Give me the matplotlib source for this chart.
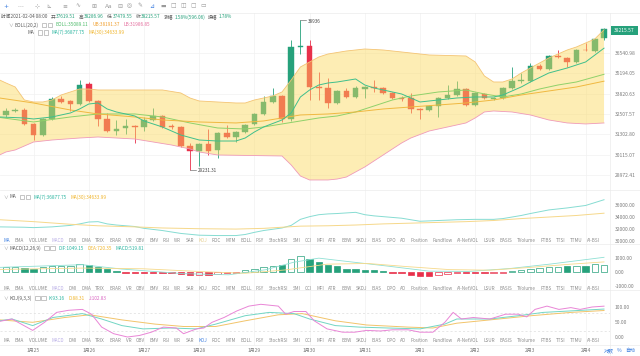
import matplotlib
matplotlib.use("Agg")
import matplotlib.pyplot as plt
from matplotlib.patches import Rectangle
from matplotlib.lines import Line2D
from matplotlib.ticker import FixedLocator, FuncFormatter, NullLocator

plt.rcParams["font.family"] = ["Noto Sans CJK SC", "DejaVu Sans"]

W, H = 640, 356
GREEN, RED = "#26a17b", "#e8304a"
GRID = "#f1f1f1"
AXIS_TXT = "#7d7d7d"
LABEL = "#5a5a5a"

# 4h candles, index 0..65, last one = 2021-02-04 08:00
opens = [32477, 32725, 32787, 31927, 31263, 32231, 33480, 33353, 33163, 34449,
         33353, 32231, 31502, 31684, 31805, 31744, 32170, 32416, 31805, 31744,
         30616, 30327, 30733, 30385, 31383, 31145, 31442, 31927, 32539, 33290,
         33672, 32231, 36961, 37031, 34253, 34188, 33226, 33994, 33608, 34123,
         34253, 34188, 33865, 33544, 33544, 32850, 32787, 33037, 33544, 33736,
         34123, 33100, 33800, 33480, 33544, 34188, 34646, 34646, 35649, 35446,
         36333, 36196, 35922, 36750, 36680, 37619.51]
closes = [32725, 32787, 31927, 31263, 32231, 33480, 33290, 33163, 34383, 33353,
          32231, 31502, 31623, 31805, 31744, 32170, 32416, 31744, 31714, 30616,
          30327, 30733, 30327, 31383, 31145, 31442, 31866, 32539, 33290, 33672,
          32231, 36961, 37031, 34253, 34188, 33226, 33994, 33608, 34188, 34253,
          34188, 33865, 33544, 33480, 32850, 32787, 33037, 33544, 33736, 34123,
          33100, 33865, 33544, 33544, 34188, 34646, 34712, 35649, 35446, 36333,
          36264, 35922, 36750, 36715, 37528, 38215.57]
highs = [32912, 32912, 32912, 31988, 32293, 33608, 33672, 33416, 34712, 34580,
         33416, 32601, 32170, 32231, 31866, 32354, 32912, 32477, 31927, 31805,
         30791, 30791, 31623, 31442, 31866, 31502, 31927, 32601, 33672, 34188,
         33736, 37456, 38936, 37456, 35244, 34845, 34058, 34188, 34318, 34318,
         34712, 34253, 33929, 33672, 33865, 32912, 33100, 33608, 34383, 34646,
         34188, 33929, 33865, 33608, 34253, 35581, 35177, 35853, 35785, 36402,
         36750, 36264, 36820, 37243, 37599, 38286.96]
lows = [32354, 32663, 31866, 30967, 31204, 32170, 33226, 32725, 33100, 33290,
        31805, 31442, 31263, 31323, 30791, 31502, 32109, 31684, 31623, 30558,
        29231.31, 29475, 30097, 29927, 31085, 30850, 31383, 31866, 32477, 33226,
        32048, 32109, 36471, 33416, 33416, 32912, 33163, 33544, 33544, 33544,
        33929, 33800, 33480, 33353, 32601, 32231, 32725, 32354, 33480, 33672,
        33037, 33037, 33480, 33416, 33480, 34123, 34515, 34580, 35378, 35378,
        36196, 35581, 35853, 36680, 36611, 37479.55]

# Bollinger bands / moving averages (read at candle positions)
ub_idx = [-0.7, 0, 1, 2, 3, 4, 5, 6, 7, 8, 9, 10, 17, 19, 20, 21, 25, 26, 27, 28, 29, 30, 31,
          32, 33, 34, 35, 37, 39, 41, 43, 46, 50, 51, 52, 53, 54, 55, 56, 57, 58, 59,
          60, 61, 62, 63, 64, 65]
ub = [34712, 34515, 34253, 33416, 33290, 33290, 33416, 33736, 33929, 34123, 34123, 34058,
      34058, 33865, 33544, 33353, 33226, 33226, 33416, 33544, 33672, 33929, 34712,
      35581, 35922, 36264, 36471, 36680, 36820, 36750, 36611, 36402, 36333, 35922,
      34978, 34580, 34580, 34778, 35177, 35513, 35853, 36196, 36471, 36750, 36961,
      37243, 37528, 38191.37]
lb_idx = [-0.7, 0, 1, 2, 3, 5, 8, 10, 12, 14, 16, 18, 20, 21, 23, 30, 31, 32, 33, 35, 36,
          37, 38, 39, 40, 41, 42, 43, 44, 46, 48, 50, 51, 52, 53, 55, 57, 59, 61, 63, 65]
lb = [30097, 30270, 30385, 30616, 30850, 30967, 31085, 31145, 31085, 31026, 30850,
      30674, 30443, 30270, 30097, 30040, 29531, 28917, 28700, 28700, 28752,
      28862, 29141, 29419, 29757, 30097, 30443, 30791, 31085, 31502, 31744,
      31988, 32293, 32663, 32725, 32663, 32477, 32170, 31988, 31927, 31986.85]
mid_idx = [-0.7, 3, 7, 10, 14, 17, 20, 23, 26, 28, 30, 32, 34, 36, 38, 40, 42, 44, 47, 50,
           52, 54, 56, 58, 60, 62, 65]
mid = [32324, 32048, 32354, 32539, 32539, 32354, 31988, 31684, 31623, 31744,
       31927, 32109, 32293, 32416, 32663, 33037, 33416, 33672, 33929, 34058,
       33800, 33608, 33800, 34123, 34383, 34580, 35089.11]
ma7_idx = [-0.7, 2, 3, 5, 7, 8, 9, 10, 11, 12, 14, 15, 17, 19, 21, 23, 25, 26, 27, 28,
           30, 31, 32, 33, 34, 35, 36, 38, 39, 40, 42, 43, 44, 45, 47, 49, 51, 53, 54,
           56, 57, 59, 61, 63, 65]
ma7 = [32354, 32293, 32231, 32354, 32601, 32850, 33163, 33226, 32850, 32663,
       32416, 32109, 31744, 31263, 30967, 30908, 30908, 31085, 31442, 31744,
       32170, 32601, 33608, 34058, 34383, 34515, 34580, 34778, 34383, 34188,
       33929, 33800, 33544, 33290, 33416, 33544, 33608, 33608, 33736, 34253,
       34580, 35177, 35513, 35922, 36877.75]
ma30_idx = [-0.7, 3, 7, 10, 14, 17, 21, 25, 28, 30, 32, 35, 38, 41, 44, 47, 50, 53, 56,
            59, 62, 65]
ma30 = [33544, 33226, 32787, 32539, 32354, 32170, 32048, 31988, 32109, 32293,
        32477, 32539, 32663, 32850, 32975, 33100, 33226, 33416, 33736, 33994,
        34253, 34633.99]

# MACD(12,26,9)
macd_hist = [324, 324, 288, 180, 324, 414, 450, 450, 540, 504,
             360, 180, 54, -72, -72, -54, -36, -54, -54, -126,
             -180, -180, -216, -126, -72, -36, 108, 234, 324, 450,
             504, 954, 1134, 954, 720, 504, 414, 234, 180, 144,
             108, 54, -54, -90, -216, -252, -252, -216, -144, -90,
             -72, -72, -72, -36, -36, 36, 108, 180, 288, 324,
             360, 414, 414, 450, 540, 519.81]
hollow = [1, 1, 0, 0, 1, 1, 1, 1, 1, 0,
          0, 0, 0, 0, 0, 0, 0, 0, 0, 0,
          0, 1, 0, 1, 1, 1, 1, 1, 1, 1,
          0, 1, 1, 0, 0, 0, 0, 0, 0, 0,
          0, 0, 0, 0, 0, 0, 0, 1, 1, 1,
          0, 0, 0, 1, 1, 1, 1, 1, 1, 1,
          1, 0, 1, 0, 1, 1]
dif_idx = [-0.7, 8.3, 12.6, 19.3, 24.2, 28.2, 31.3, 34, 37, 41.5, 46, 50.3, 54.8, 59.2, 65]
dif = [330, 520, 210, -120, -200, 160, 700, 990, 760, 420, 60, 40, 250, 570, 1049.15]
dea_idx = [-0.7, 8.3, 14.9, 21.5, 26, 30.4, 34.9, 39.3, 43.7, 48.2, 52.6, 57, 61.4, 65]
dea = [180, 280, 230, 20, -90, 150, 560, 610, 380, 170, 130, 330, 560, 720.35]

# KDJ(9,3,3)
k_idx = [-0.7, 0.65, 2.9, 5.1, 8.3, 10.4, 12.6, 14.9, 17.9, 20.7, 22.8, 26, 28.6, 31.3,
         33, 35.8, 38.4, 41.5, 45, 47.7, 49, 52.6, 55.7, 58.4, 61.4, 65]
k_val = [54, 60, 38, 65, 78, 60, 38, 27, 30, 27, 43, 71, 82, 78, 60, 38, 33, 30, 27,
         43, 60, 60, 71, 82, 87, 93.16]
d_idx = [-0.7, 2.9, 6.4, 9.1, 12.6, 16.2, 19.3, 22.8, 26, 29.6, 32.2, 35.8, 39.2, 43.7,
         46.4, 49, 52.6, 57.1, 61.4, 65]
d_val = [57, 49, 65, 74, 57, 43, 35, 35, 54, 74, 78, 54, 40, 33, 30, 46, 57, 71, 82, 88.31]
j_idx = [-0.7, 0.65, 2.9, 4.2, 5.5, 6.8, 8.3, 9.3, 10.4, 11.7, 13.2, 14.5, 15.8, 17.1,
         18.5, 19.3, 20.7, 21.5, 22.4, 23.7, 25.1, 26.4, 27.7, 29.6, 30.4, 31.3, 32.6,
         33.5, 34.9, 36.6, 37.9, 39.2, 40.7, 42, 43.7, 45, 46.4, 47.7, 48.6, 49.5, 50.8,
         52.6, 54.3, 55.7, 56.6, 57.5, 58.8, 60.1, 61.4, 62.4, 63.7, 65]
j_val = [52, 60, 22, 49, 82, 89, 92, 76, 33, 11, 0, 5, 16, 33, 30, 11, 27, 30, 49, 65,
         87, 103, 109, 103, 76, 85, 85, 54, 27, 16, 16, 22, 20, 24, 24, 16, 16, 49, 82,
         60, 65, 60, 76, 76, 67, 92, 103, 92, 98, 92, 100, 102.83]

day_idx = [3, 9, 15, 21, 27, 33, 39, 45, 51, 57, 63]
day_labels = ["1月25", "1月26", "1月27", "1月28", "1月29", "1月30", "1月31",
              "2月1", "2月2", "2月3", "2月4"]

price_ticks = [36540.98, 35194.05, 33820.63, 32507.57, 31302.80, 30115.07, 28972.41]
ma_ticks = [36000, 34000, 32000, 30000]
macd_ticks = [1000, 0, -1000]
kdj_ticks = [100, 50, 0]

TABS = ["MA", "EMA", "VOLUME", "MACD", "DMI", "DMA", "TRIX", "BRAR", "VR", "OBV", "EMV",
        "RSI", "WR", "SAR", "KDJ", "ROC", "MTM", "BOLL", "PSY", "StochRSI", "SMI", "CCI",
        "MFI", "ATR", "BBW", "SKDJ", "BIAS", "DPO", "AO", "Position", "Fundflow",
        "AI-NetVOL", "LSUR", "BASIS", "TVolume", "FTBS", "TTSI", "TTMU", "AI-BSI"]


def fx(x):
    return x / W


def fy(y):
    return 1 - y / H


fig = plt.figure(figsize=(6.4, 3.56), dpi=100)
renderer = fig.canvas.get_renderer()


def panel(top, bottom):
    ax = fig.add_axes([0, fy(bottom), 610 / W, (bottom - top) / H])
    ax.set_xlim(-0.65, 65.65)
    for s in ax.spines.values():
        s.set_visible(False)
    ax.set_xticks([])
    ax.yaxis.tick_right()
    ax.tick_params(axis="y", length=0, pad=3.2, labelsize=3.6, labelcolor=AXIS_TXT)
    for d in day_idx:
        ax.axvline(d, color=GRID, lw=0.5, zorder=0)
    return ax


def set_ticks(ax, ticks, fmt="{:.2f}"):
    ax.yaxis.set_major_locator(FixedLocator(ticks))
    ax.yaxis.set_major_formatter(FuncFormatter(lambda v, p: fmt.format(v)))
    ax.yaxis.set_minor_locator(NullLocator())


def row(x, y, parts, size=3.4):
    # parts: (text, color, gap after); "[]" draws the little settings box
    for txt, col, gap in parts:
        if txt == "[]":
            fig.patches.append(Rectangle((fx(x), fy(y + 2.3)), 4.6 / W, 4.6 / H,
                                         transform=fig.transFigure, fill=False,
                                         ec="#9a9a9a", lw=0.4))
            x += 4.6 + gap
            continue
        t = fig.text(fx(x), fy(y), txt, color=col, fontsize=size, va="center", ha="left")
        x += t.get_window_extent(renderer).width + gap
    return x


def tab_row(y, colors):
    texts = [fig.text(0, fy(y), n, fontsize=3.3, color=colors.get(n, "#8c8c8c"),
                      va="center", ha="left") for n in TABS]
    widths = [t.get_window_extent(renderer).width for t in texts]
    gap = (600 - 4 - sum(widths)) / (len(TABS) - 1)
    x = 4
    for t, w in zip(texts, widths):
        t.set_x(fx(x))
        x += w + gap


# ---- main price panel ----
ax = panel(13, 190)
ax.set_yscale("log")
ax.set_ylim(28158, 39429)
set_ticks(ax, price_ticks)
for v in price_ticks:
    ax.axhline(v, color=GRID, lw=0.5, zorder=0)

idx = list(range(len(opens)))
cols = [GREEN if c >= o else RED for o, c in zip(opens, closes)]
ax.vlines(idx, lows, highs, colors=cols, lw=0.6, zorder=2)
ax.bar(idx, [abs(c - o) for o, c in zip(opens, closes)],
       bottom=[min(o, c) for o, c in zip(opens, closes)],
       width=0.62, color=cols, edgecolor=cols, lw=0.3, zorder=2)

ax.fill(ub_idx + lb_idx[::-1], ub + lb[::-1], color="#fcd95a", alpha=0.45,
        lw=0, zorder=3)
ax.plot(ub_idx, ub, color="#f4c474", lw=0.6, zorder=4)
ax.plot(lb_idx, lb, color="#ef9ab8", lw=0.6, zorder=4)
ax.plot(mid_idx, mid, color="#8fd16a", lw=0.7, zorder=4)
ax.plot(ma30_idx, ma30, color="#f0b840", lw=0.7, zorder=4)
ax.plot(ma7_idx, ma7, color="#3fbf8c", lw=0.7, zorder=4)

hi_i = highs.index(max(highs))
lo_i = lows.index(min(lows))
ax.plot([hi_i, hi_i + 0.6], [highs[hi_i]] * 2, color="#555555", lw=0.4, zorder=5)
ax.text(hi_i + 0.8, highs[hi_i] * 0.997, f"{max(highs):.0f}", fontsize=3.3,
        color="#444444", va="center", zorder=5)
ax.plot([lo_i, lo_i + 0.6], [lows[lo_i]] * 2, color="#555555", lw=0.4, zorder=5)
ax.text(lo_i + 0.8, lows[lo_i], f"{min(lows):.2f}", fontsize=3.3, color="#444444",
        va="center", zorder=5)

# ---- MA sub panel ----
ax2 = panel(190, 244)
ax2.set_ylim(29500, 38500)
set_ticks(ax2, ma_ticks)
ax2.plot(ma7_idx, ma7, color="#86dcd2", lw=0.7)
ax2.plot(ma30_idx, ma30, color="#f6d88a", lw=0.7)

# ---- MACD ----
ax3 = panel(244, 290)
ax3.set_ylim(-1286, 2000)
set_ticks(ax3, macd_ticks)
bar_cols = [GREEN if v >= 0 else RED for v in macd_hist]
faces = ["white" if h else c for h, c in zip(hollow, bar_cols)]
ax3.bar(idx, macd_hist, width=0.68, color=faces, edgecolor=bar_cols, lw=0.5, zorder=2)
ax3.plot(dif_idx, dif, color="#8fe0d4", lw=0.6, zorder=3)
ax3.plot(dea_idx, dea, color="#f6d98a", lw=0.6, zorder=3)

# ---- KDJ ----
ax4 = panel(290, 345)
ax4.set_ylim(-26.7, 156.7)
set_ticks(ax4, kdj_ticks)
for lvl in (80, 20):
    ax4.axhline(lvl, color="#dddddd", lw=0.5, ls=(0, (3, 3)), zorder=0)
ax4.plot(d_idx, d_val, color="#f2c46a", lw=0.7)
ax4.plot(k_idx, k_val, color="#72d6c4", lw=0.7)
ax4.plot(j_idx, j_val, color="#e985d6", lw=0.7)

# ---- frame lines ----
for yy in (13, 190, 244, 290, 345):
    fig.add_artist(Line2D([0, 1], [fy(yy)] * 2, color="#ebebeb", lw=0.5))
fig.add_artist(Line2D([fx(610)] * 2, [fy(13), fy(356)], color="#ebebeb", lw=0.5))

# ---- toolbar ----
icons = ["+", "⋯", "⊹", "⊾", "≡", "∿", "⊞", "Aa", "⊟", "◎", "✎", "⊿", "▬", "□", "◫", "▢", "▭"]
icon_x = [6, 20, 37, 49, 65, 78, 94, 109, 120, 129, 140, 152, 163, 173, 183, 193, 203]
for ic, xx in zip(icons, icon_x):
    col = "#3d7fe0" if ic in ("+", "⊿") else "#9a9a9a"
    fig.text(fx(xx), fy(6), ic, fontsize=4.2, color=col, ha="center", va="center",
             family=["DejaVu Sans"])

# ---- legends ----
row(1, 17, [("时间2021-02-04 08:00", LABEL, 3), ("开", LABEL, 1), ("37619.51", GREEN, 3),
            ("高", LABEL, 1), ("38286.96", GREEN, 3), ("低", LABEL, 1),
            ("37479.55", GREEN, 3), ("收", LABEL, 1), ("38215.57", GREEN, 3),
            ("涨幅", LABEL, 1), ("1.58%(596.06)", GREEN, 3), ("振幅", LABEL, 1),
            ("1.78%", GREEN, 0)])
row(8, 25, [("∨", "#999999", 2), ("BOLL(20,2)", LABEL, 3), ("[]", None, 1.5),
            ("[]", None, 3), ("BOLL:35089.11", "#4dbb6a", 4),
            ("UB:38191.37", "#f0a030", 4), ("LB:31986.85", "#e46c9c", 0)])
row(28, 32.5, [("MA", LABEL, 3), ("[]", None, 1.5), ("[]", None, 3),
               ("MA(7):36877.75", "#2bb5a0", 4), ("MA(30):34633.99", "#f0b429", 0)])
row(3, 197, [("∨", "#999999", 2), ("MA", LABEL, 3), ("[]", None, 1.5), ("[]", None, 3),
             ("MA(7):36877.75", "#2bb5a0", 4), ("MA(30):34633.99", "#f0b429", 0)])
row(3, 248, [("∨", "#999999", 2), ("MACD(12,26,9)", LABEL, 3), ("[]", None, 1.5),
             ("[]", None, 3), ("DIF:1049.15", "#2bb5a0", 4), ("DEA:720.35", "#f0b429", 4),
             ("MACD:519.81", "#2bb5a0", 0)])
row(3, 298, [("∨", "#999999", 2), ("KDJ(9,3,3)", LABEL, 3), ("[]", None, 1.5),
             ("[]", None, 3), ("K:93.16", "#2bb5a0", 4), ("D:88.31", "#f0b429", 4),
             ("J:102.83", "#d965c2", 0)])

tab_row(240, {"MA": "#3d7fe0", "MACD": "#b9aee6", "KDJ": "#e6cf8f"})
tab_row(288, {"MACD": "#b9aee6"})
tab_row(341, {"MACD": "#b9aee6", "KDJ": "#3d7fe0"})

# current price tag
fig.patches.append(Rectangle((fx(611), fy(34.5)), 27 / W, 9 / H, transform=fig.transFigure,
                             color=GREEN, lw=0))
fig.text(fx(624.5), fy(30), "38215.57", color="white", fontsize=3.5, ha="center",
         va="center")

# dates
for d, lab in zip(day_idx, day_labels):
    fig.text(fx(6 + 9.2 * d), fy(350.5), lab, fontsize=3.5, color="#777777",
             ha="center", va="center")
row(604, 350.5, [("对数", "#3d7fe0", 3), ("%", "#3d7fe0", 3), ("自动", "#3d7fe0", 0)],
    size=3.6)

fig.savefig("out.png", dpi=100)
